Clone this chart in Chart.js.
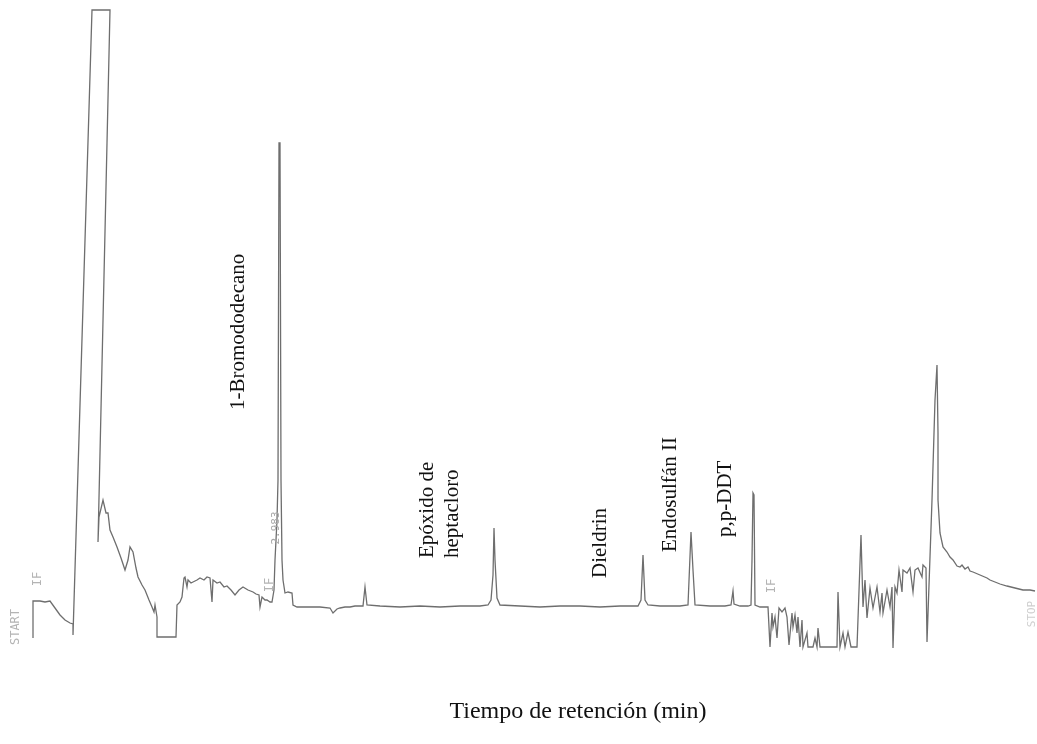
<!DOCTYPE html>
<html>
<head>
<meta charset="utf-8">
<script src="https://cdn.jsdelivr.net/npm/chart.js@4/dist/chart.umd.min.js"></script>
<style>
  html, body { margin: 0; padding: 0; background: #fff; }
  #wrap { width: 1037px; height: 744px; }
</style>
</head>
<body>
<div id="wrap"><canvas id="c" width="1037" height="744"></canvas></div>
<script>
// Retention time (arbitrary units) and detector signal (baseline = 0)
const tiempo = [33,33,40,45,50,55,60,65,70,73,73,92,110,98,99,103,106,108,110,113,117,121,125,128,130,133,136,138,142,145,149,152,154,155,157,157,176,177,180,182,184,185,187,188,191,193,197,200,204,207,210,212,213,217,220,224,227,231,235,239,243,248,253,256,259,260,262,265,267,270,272,274,275,277,278,279,280,281,282,283,285,288,292,293,297,310,320,330,333,337,340,345,350,355,360,363,365,367,380,400,420,440,460,480,488,491,493,494,495,497,500,520,540,560,580,600,620,638,641,643,645,648,660,680,688,691,693,695,710,725,731,732,733,734,740,748,751,752,753,754,755,760,768,770,772,773,775,777,779,782,785,787,789,792,793,795,797,798,800,802,803,807,808,813,815,817,818,820,837,838,840,843,845,848,851,857,861,863,865,867,870,873,877,880,882,883,887,890,892,893,895,897,899,902,903,907,910,913,915,918,922,923,926,927,932,935,937,938,938,940,943,947,950,953,957,960,962,965,968,970,973,980,987,990,1000,1007,1015,1023,1030,1035];
const senal  = [-31,6,6,5,6,-1,-8,-13,-16,-17,-28,597,597,65,90,107,94,94,77,70,60,49,37,47,60,55,39,30,22,17,7,0,-5,2,-10,-30,-30,2,5,10,29,30,20,27,24,25,27,29,27,30,29,5,27,24,25,20,21,17,12,17,20,17,15,13,12,0,10,7,7,5,5,17,47,87,127,464,464,127,47,27,14,15,14,2,0,0,0,-1,-6,-2,-1,0,0,1,1,1,20,2,1,0,1,0,1,1,2,7,32,79,47,9,2,1,0,1,1,0,1,1,7,52,7,2,1,1,2,75,37,2,1,1,2,9,16,3,1,1,2,47,114,112,2,0,0,-40,-6,-20,-10,-31,-1,-5,-1,-10,-38,-6,-20,-8,-26,-10,-40,-13,-40,-26,-40,-40,-31,-40,-21,-40,-40,15,-40,-26,-40,-25,-40,-40,72,0,27,-11,19,-1,20,-5,14,-6,17,0,20,-41,20,14,37,15,37,34,39,15,37,39,30,42,39,-35,107,207,242,174,107,74,60,55,50,47,41,40,42,38,40,36,35,32,29,27,23,21,19,17,17,16];

const compuestos = ["1-Bromododecano", "Epóxido de|heptacloro", "Dieldrin", "Endosulfán II", "p,p-DDT"];
const tituloX = "Tiempo de retención (min)";
const marcasImpresas = ["START", "IF", "2.983", "IF", "IF", "STOP"];

const puntos = tiempo.map((t, i) => ({ x: t, y: senal[i] }));

const textPlugin = {
  id: 'chromLabels',
  afterDraw(chart) {
    const ctx = chart.ctx;
    ctx.save();
    const rot = (txt, x, y, font, color, align) => {
      ctx.save();
      ctx.translate(x, y);
      ctx.rotate(-Math.PI / 2);
      ctx.font = font;
      ctx.fillStyle = color;
      ctx.textAlign = align || 'left';
      ctx.textBaseline = 'middle';
      ctx.fillText(txt, 0, 0);
      ctx.restore();
    };
    const f = '21px "Liberation Serif", "Times New Roman", serif';
    const k = '#111';
    rot(compuestos[0], 238, 410, f, k);
    const ep = compuestos[1].split('|');
    rot(ep[0], 427, 558, f, k);
    rot(ep[1], 452, 558, f, k);
    rot(compuestos[2], 600, 578, f, k);
    rot(compuestos[3], 670, 552, f, k);
    rot(compuestos[4], 725, 537, f, k);

    const fm = '12px "DejaVu Sans Mono", monospace';
    const g = '#b4b4b4';
    rot(marcasImpresas[0], 16, 627, fm, g, 'center');
    rot(marcasImpresas[1], 38, 579, fm, g, 'center');
    rot(marcasImpresas[2], 276, 528, '11px "DejaVu Sans Mono", monospace', '#a8a8a8', 'center');
    rot(marcasImpresas[3], 270, 585, fm, g, 'center');
    rot(marcasImpresas[4], 772, 586, fm, g, 'center');
    rot(marcasImpresas[5], 1032, 614, '11px "DejaVu Sans Mono", monospace', '#cfcfcf', 'center');

    ctx.font = '24px "Liberation Serif", "Times New Roman", serif';
    ctx.fillStyle = '#111';
    ctx.textAlign = 'center';
    ctx.textBaseline = 'middle';
    ctx.fillText(tituloX, 578, 712);
    ctx.restore();
  }
};

new Chart(document.getElementById('c'), {
  type: 'scatter',
  data: {
    datasets: [{
      data: puntos,
      showLine: true,
      borderColor: '#6e6e6e',
      borderWidth: 1.3,
      pointRadius: 0,
      tension: 0,
      fill: false
    }]
  },
  options: {
    responsive: false,
    animation: false,
    devicePixelRatio: 1,
    layout: { padding: 0 },
    plugins: { legend: { display: false }, tooltip: { enabled: false }, title: { display: false } },
    scales: {
      x: { type: 'linear', min: 0, max: 1037, display: false },
      y: { type: 'linear', min: -137, max: 607, display: false }
    }
  },
  plugins: [textPlugin]
});
</script>
</body>
</html>
